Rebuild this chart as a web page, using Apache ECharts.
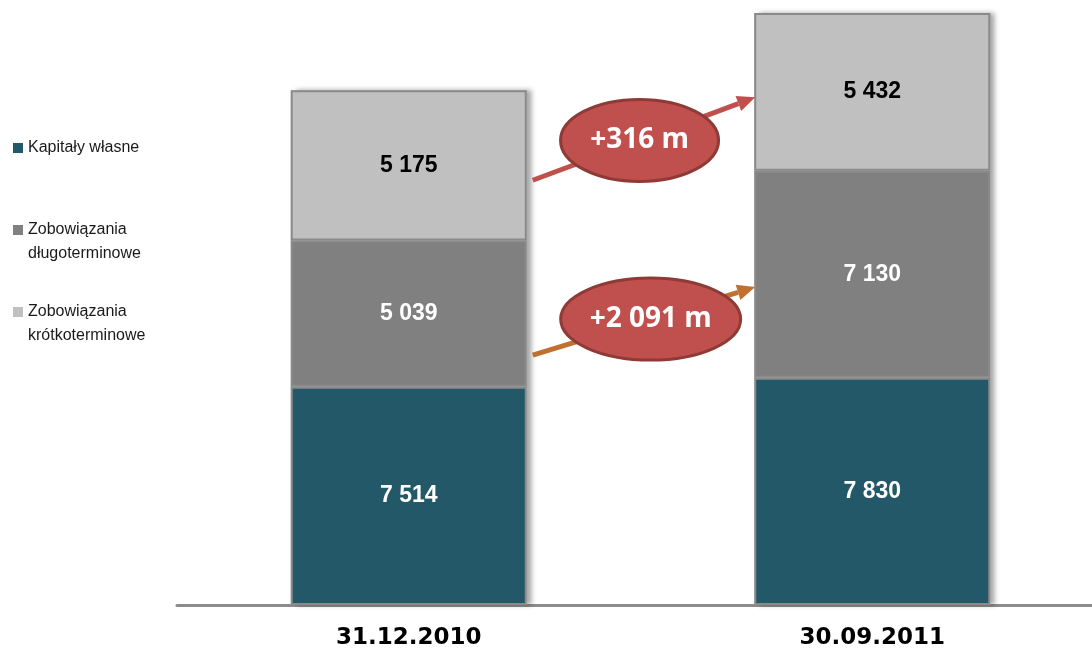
<!DOCTYPE html>
<html>
<head>
<meta charset="utf-8">
<script src="https://cdn.jsdelivr.net/npm/echarts@6/dist/echarts.min.js"></script>
<style>
html,body{margin:0;padding:0;background:#fff}
#main{width:1092px;height:655px}
</style>
</head>
<body>
<div id="main"></div>
<script>
// dane
var categories = ['31.12.2010', '30.09.2011'];
var seriesNames = ['Kapitały własne', 'Zobowiązania długoterminowe', 'Zobowiązania krótkoterminowe'];
var kapitalyWlasne = [7514, 7830];
var zobDlugo = [5039, 7130];
var zobKrotko = [5175, 5432];
var changeLabels = ['+316 m', '+2 091 m'];
var arrowFrom = [14630, 8610];   // wartość na osi Y przy słupku 1
var arrowTo = [17490, 10950];    // wartość na osi Y przy słupku 2

var barWidth = 236;
var colors = ['#235868', '#808080', '#c0c0c0'];
var labelColors = ['#ffffff', '#ffffff', '#000000'];

function fmt(v){
	return String(v).replace(/\B(?=(\d{3})+(?!\d))/g, ' ');
}

function buildSeries(idx, data){
	return {
		name: seriesNames[idx],
		type: 'bar',
		stack: 'total',
		barWidth: barWidth,
		barGap: '-100%',
		data: data,
		itemStyle: {
			color: colors[idx],
			borderColor: '#8a8a8a',
			borderWidth: 2
		},
		label: {
			show: true,
			position: 'inside',
			color: labelColors[idx],
			fontFamily: '"Liberation Sans Narrow", "Liberation Sans", Arial, sans-serif',
			fontWeight: 'bold',
			fontSize: 23,
			formatter: function(p){ return fmt(p.value); }
		}
	};
}

function legendItem(name, top){
	return {
		data: [name],
		orient: 'vertical',
		left: 13,
		top: top,
		padding: 0,
		icon: 'rect',
		itemWidth: 10,
		itemHeight: 10,
		selectedMode: false,
		itemStyle: { borderWidth: 0 },
		textStyle: { fontFamily: 'Liberation Sans', fontSize: 16, color: '#1a1a1a', lineHeight: 24 },
		formatter: function(n){
			// dwie linie – ikona przy pierwszej
			if (n.indexOf('Zobowiązania ') === 0) {
				return '\n' + n.replace(' ', '\n');
			}
			return n;
		}
	};
}

var totals = [];
for (var k = 0; k < categories.length; k++) {
	totals.push(kapitalyWlasne[k] + zobDlugo[k] + zobKrotko[k]);
}

var option = {
	animation: false,
	backgroundColor: '#ffffff',
	grid: { left: 177, width: 927, top: 13, bottom: 50, containLabel: false, outerBoundsMode: 'none' },
	legend: [
		legendItem(seriesNames[0], 136),
		legendItem(seriesNames[1], 194),
		legendItem(seriesNames[2], 276)
	],
	xAxis: {
		type: 'category',
		data: categories,
		axisLine: { lineStyle: { color: '#8c8c8c', width: 3 } },
		axisTick: { show: false },
		axisLabel: {
			margin: 22,
			color: '#000',
			fontFamily: 'DejaVu Sans',
			fontWeight: 'bold',
			fontSize: 23
		}
	},
	yAxis: { type: 'value', min: 0, max: Math.max.apply(null, totals), show: false },
	series: [
		// cień pod całym słupkiem
		{
			name: 'cien',
			type: 'bar',
			barWidth: barWidth,
			barGap: '-100%',
			silent: true,
			z: 1,
			data: totals,
			itemStyle: {
				color: '#bdbdbd',
				shadowColor: 'rgba(0,0,0,0.35)',
				shadowBlur: 5,
				shadowOffsetX: 5
			}
		},
		buildSeries(0, kapitalyWlasne),
		buildSeries(1, zobDlugo),
		buildSeries(2, zobKrotko)
	]
};

var chart = echarts.init(document.getElementById('main'));
chart.setOption(option);

// strzałki i elipsy ze zmianą
var arrowColors = ['#c0504d', '#c0712f'];
var ellipseRx = [79, 90];
var ellipseAt = [0.48, 0.53];
var graphics = [];
for (var i = 0; i < changeLabels.length; i++) {
	var p0 = chart.convertToPixel({gridIndex: 0}, [0, arrowFrom[i]]);
	var p1 = chart.convertToPixel({gridIndex: 0}, [1, arrowTo[i]]);
	var x0 = p0[0] + barWidth / 2 + 6, y0 = p0[1];
	var x1 = p1[0] - barWidth / 2 + 1, y1 = p1[1];
	var ang = Math.atan2(y1 - y0, x1 - x0);
	var headLen = 18, headW = 8;
	var bx = x1 - headLen * Math.cos(ang), by = y1 - headLen * Math.sin(ang);
	graphics.push({
		type: 'line', z: 100,
		shape: { x1: x0, y1: y0, x2: bx, y2: by },
		style: { stroke: arrowColors[i], lineWidth: 5 }
	});
	graphics.push({
		type: 'polygon', z: 100,
		shape: { points: [[x1, y1], [bx + headW * Math.sin(ang), by - headW * Math.cos(ang)], [bx - headW * Math.sin(ang), by + headW * Math.cos(ang)]] },
		style: { fill: arrowColors[i] }
	});
	var cx = x0 + (x1 - x0) * ellipseAt[i], cy = y0 + (y1 - y0) * ellipseAt[i];
	graphics.push({
		type: 'ellipse', z: 101,
		shape: { cx: cx, cy: cy, rx: ellipseRx[i], ry: 41 },
		style: { fill: '#c0504d', stroke: '#8e3a37', lineWidth: 3 }
	});
	graphics.push({
		type: 'text', z: 102,
		style: {
			text: changeLabels[i], x: cx, y: cy,
			align: 'center', verticalAlign: 'middle',
			fill: '#ffffff', font: 'bold 28px "Open Sans"'
		}
	});
}
chart.setOption({ graphic: graphics });
</script>
</body>
</html>
